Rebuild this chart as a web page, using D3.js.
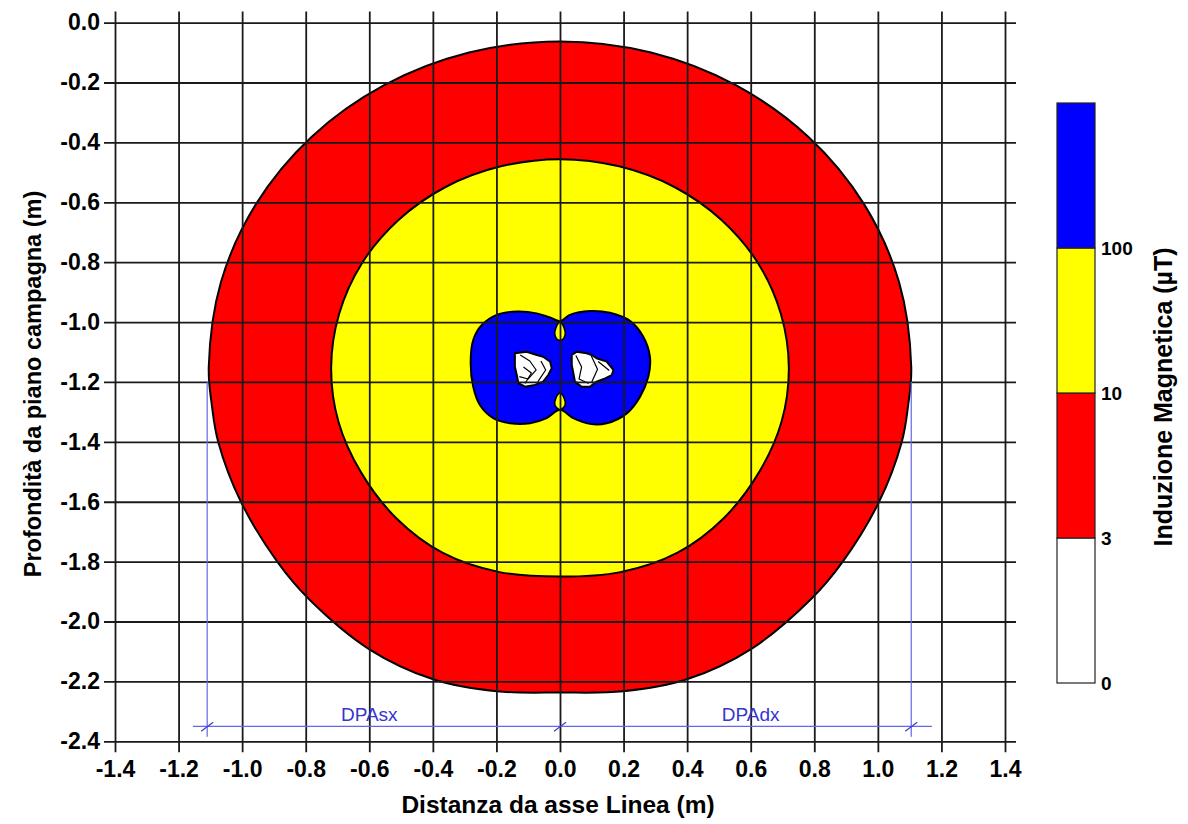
<!DOCTYPE html>
<html>
<head>
<meta charset="utf-8">
<script src="https://cdn.jsdelivr.net/npm/d3@7"></script>
<style>
  body { margin: 0; background: #fff; }
  text { font-family: Arial, "Liberation Sans", sans-serif; }
</style>
</head>
<body>
<script>
// tick values on both axes (m)
var xTicks = [-1.4, -1.2, -1.0, -0.8, -0.6, -0.4, -0.2, 0.0, 0.2, 0.4, 0.6, 0.8, 1.0, 1.2, 1.4];
var yTicks = [0.0, -0.2, -0.4, -0.6, -0.8, -1.0, -1.2, -1.4, -1.6, -1.8, -2.0, -2.2, -2.4];

// 3 uT contour (outer red edge), [x, y] in metres
var contour3 = [
  [0.00, -0.063], [0.286, -0.100], [0.553, -0.209], [0.781, -0.381], [0.957, -0.607],
  [1.067, -0.868], [1.105, -1.150], [1.095, -1.280], [1.075, -1.401], [1.003, -1.602],
  [0.889, -1.801], [0.790, -1.925], [0.601, -2.092], [0.399, -2.193], [0.199, -2.233],
  [0.00, -2.237], [-0.199, -2.233], [-0.399, -2.193], [-0.601, -2.092], [-0.790, -1.925],
  [-0.889, -1.801], [-1.003, -1.602], [-1.075, -1.401], [-1.095, -1.280], [-1.105, -1.150],
  [-1.067, -0.868], [-0.957, -0.607], [-0.781, -0.381], [-0.553, -0.209], [-0.286, -0.100]
];

// 10 uT contour (yellow edge)
var contour10 = [
  [0.00, -0.456], [0.186, -0.480], [0.360, -0.549], [0.509, -0.660], [0.624, -0.805],
  [0.695, -0.973], [0.720, -1.153], [0.697, -1.333], [0.626, -1.502], [0.515, -1.655],
  [0.370, -1.770], [0.190, -1.835], [0.00, -1.850], [-0.190, -1.835], [-0.370, -1.770],
  [-0.515, -1.655], [-0.626, -1.502], [-0.697, -1.333], [-0.720, -1.153], [-0.695, -0.973],
  [-0.624, -0.805], [-0.509, -0.660], [-0.360, -0.549], [-0.186, -0.480]
];

// 100 uT contour (blue, two lobes)
var contour100 = [
  [0.00, -0.997], [0.031, -0.976], [0.094, -0.963], [0.157, -0.969], [0.220, -0.996],
  [0.262, -1.049], [0.283, -1.116], [0.278, -1.182], [0.252, -1.249], [0.210, -1.305],
  [0.147, -1.338], [0.094, -1.340], [0.042, -1.321], [0.00, -1.293], [-0.042, -1.321],
  [-0.094, -1.338], [-0.157, -1.338], [-0.210, -1.321], [-0.252, -1.277], [-0.273, -1.216],
  [-0.281, -1.138], [-0.273, -1.060], [-0.246, -1.010], [-0.199, -0.976], [-0.136, -0.965],
  [-0.073, -0.971], [-0.031, -0.985]
];

// small yellow pockets between the lobes
var notchTop = [[0.00, -1.000], [0.013, -1.020], [0.016, -1.043], [0.006, -1.060], [-0.006, -1.060], [-0.016, -1.043], [-0.013, -1.020]];
var notchBottom = [[0.00, -1.237], [0.013, -1.254], [0.016, -1.277], [0.00, -1.293], [-0.016, -1.277], [-0.013, -1.254]];

// conductor areas (white)
var coreLeft = [
  [-0.142, -1.104], [-0.105, -1.099], [-0.073, -1.110], [-0.053, -1.116], [-0.031, -1.132],
  [-0.026, -1.154], [-0.037, -1.177], [-0.053, -1.199], [-0.079, -1.210], [-0.110, -1.216],
  [-0.131, -1.204], [-0.136, -1.177], [-0.142, -1.149]
];
var coreRight = [
  [0.037, -1.110], [0.053, -1.099], [0.084, -1.104], [0.100, -1.110], [0.115, -1.121],
  [0.147, -1.132], [0.168, -1.160], [0.163, -1.177], [0.142, -1.188], [0.115, -1.199],
  [0.094, -1.216], [0.068, -1.216], [0.047, -1.199], [0.042, -1.171], [0.037, -1.143]
];
var coreLines = [
  [[-0.125, -1.110], [-0.095, -1.130], [-0.075, -1.160], [-0.100, -1.190], [-0.128, -1.182]],
  [[-0.060, -1.130], [-0.045, -1.160], [-0.070, -1.200]],
  [[-0.115, -1.150], [-0.090, -1.170], [-0.110, -1.205]],
  [[0.050, -1.112], [0.068, -1.150], [0.060, -1.190], [0.090, -1.205]],
  [[0.098, -1.112], [0.118, -1.158], [0.100, -1.200]],
  [[0.120, -1.132], [0.155, -1.162]]
];

// DPA (distanza di prima approssimazione)
var dpaX = [-1.11, 1.105];
var dpaTickX = [-1.11, 0.0, 1.105];
var dpaLabels = ["DPAsx", "DPAdx"];
var dpaLabelX = [-0.60, 0.60];

// legend
var legendLevels = ["0", "3", "10", "100"];
var legendColors = ["#ffffff", "#ff0000", "#ffff00", "#0000ff"];

var width = 1188, height = 824;

var svg = d3.select("body").append("svg")
    .attr("width", width)
    .attr("height", height)
    .style("display", "block");

svg.append("rect").attr("width", width).attr("height", height).attr("fill", "#fff");

var x = d3.scaleLinear().domain([-1.4, 1.4]).range([115, 1005]);
var y = d3.scaleLinear().domain([0, -2.4]).range([22.6, 741.3]);

var ext = 11; // grid lines run a bit past the domain

var smooth = d3.line()
    .x(function(d) { return x(d[0]); })
    .y(function(d) { return y(d[1]); })
    .curve(d3.curveCatmullRomClosed);

var jagged = d3.line()
    .x(function(d) { return x(d[0]); })
    .y(function(d) { return y(d[1]); })
    .curve(d3.curveLinearClosed);

var open = d3.line()
    .x(function(d) { return x(d[0]); })
    .y(function(d) { return y(d[1]); });

// filled contour bands
var bands = svg.append("g").attr("stroke", "#000").attr("stroke-width", 2).attr("stroke-linejoin", "round");

bands.append("path").attr("d", smooth(contour3)).attr("fill", "#ff0000");
bands.append("path").attr("d", smooth(contour10)).attr("fill", "#ffff00");
bands.append("path").attr("d", smooth(contour100)).attr("fill", "#0000ff");
bands.append("path").attr("d", smooth(notchTop)).attr("fill", "#ffff00").attr("stroke-width", 1.5);
bands.append("path").attr("d", smooth(notchBottom)).attr("fill", "#ffff00").attr("stroke-width", 1.5);
bands.append("path").attr("d", jagged(coreLeft)).attr("fill", "#fff");
bands.append("path").attr("d", jagged(coreRight)).attr("fill", "#fff");

bands.selectAll(".coreline")
    .data(coreLines)
    .enter()
    .append("path")
    .attr("class", "coreline")
    .attr("d", open)
    .attr("fill", "none")
    .attr("stroke-width", 1.2);

// grid + axes
var fmt = function(d) { return Math.abs(d) < 1e-9 ? "0.0" : d.toFixed(1); };

var xAxis = svg.append("g")
    .attr("transform", "translate(0," + (y(-2.4) + ext) + ")")
    .call(d3.axisBottom(x)
        .tickValues(xTicks)
        .tickFormat(fmt)
        .tickSizeInner(-(y(-2.4) - y(0) + 2 * ext))
        .tickSizeOuter(0)
        .tickPadding(8));

var yAxis = svg.append("g")
    .attr("transform", "translate(" + (x(-1.4) - ext) + ",0)")
    .call(d3.axisLeft(y)
        .tickValues(yTicks)
        .tickFormat(fmt)
        .tickSizeInner(-(x(1.4) - x(-1.4) + 2 * ext))
        .tickSizeOuter(0)
        .tickPadding(4));

[xAxis, yAxis].forEach(function(a) {
    a.select(".domain").remove();
    a.selectAll(".tick line").attr("stroke", "#1a1a1a").attr("stroke-width", 1.8);
    a.selectAll(".tick text")
        .attr("fill", "#000")
        .style("font-size", "23px")
        .style("font-weight", "bold");
});

// DPA dimension lines
var dpa = svg.append("g").attr("stroke", "#6666e8").attr("stroke-width", 1.2);

dpa.selectAll(".dv")
    .data(dpaX)
    .enter()
    .append("line")
    .attr("x1", function(d) { return x(d); })
    .attr("x2", function(d) { return x(d); })
    .attr("y1", y(-1.2))
    .attr("y2", y(-2.385));

dpa.append("line")
    .attr("x1", x(-1.155))
    .attr("x2", x(1.17))
    .attr("y1", y(-2.35))
    .attr("y2", y(-2.35));

dpa.selectAll(".dt")
    .data(dpaTickX)
    .enter()
    .append("line")
    .attr("stroke", "#3c3cd0")
    .attr("x1", function(d) { return x(d) - 6; })
    .attr("x2", function(d) { return x(d) + 6; })
    .attr("y1", y(-2.35) + 5)
    .attr("y2", y(-2.35) - 4);

svg.selectAll(".dpalabel")
    .data(dpaLabels)
    .enter()
    .append("text")
    .attr("x", function(d, i) { return x(dpaLabelX[i]); })
    .attr("y", y(-2.35) - 5)
    .attr("text-anchor", "middle")
    .attr("fill", "#3535cf")
    .style("font-size", "19px")
    .text(function(d) { return d; });

// axis titles
svg.append("text")
    .attr("x", 558)
    .attr("y", 813)
    .attr("text-anchor", "middle")
    .style("font-size", "24.5px")
    .style("font-weight", "bold")
    .text("Distanza da asse Linea (m)");

svg.append("text")
    .attr("transform", "translate(41,384) rotate(-90)")
    .attr("text-anchor", "middle")
    .style("font-size", "23.5px")
    .style("font-weight", "bold")
    .text("Profondità da piano campagna (m)");

// colour legend
var ly = d3.scaleLinear().domain([0, legendLevels.length]).range([683, 103]);
var lx0 = 1057, lx1 = 1095;

var legend = svg.append("g");

legend.selectAll("rect")
    .data(legendColors)
    .enter()
    .append("rect")
    .attr("x", lx0)
    .attr("y", function(d, i) { return ly(i + 1); })
    .attr("width", lx1 - lx0)
    .attr("height", function(d, i) { return ly(i) - ly(i + 1); })
    .attr("fill", function(d) { return d; })
    .attr("stroke", "#222")
    .attr("stroke-width", 1.2);

legend.selectAll("text")
    .data(legendLevels)
    .enter()
    .append("text")
    .attr("x", lx1 + 6)
    .attr("y", function(d, i) { return ly(i); })
    .attr("dy", "0.36em")
    .style("font-size", "19px")
    .style("font-weight", "bold")
    .text(function(d) { return d; });

svg.append("text")
    .attr("transform", "translate(1172,397) rotate(-90)")
    .attr("text-anchor", "middle")
    .style("font-size", "25px")
    .style("font-weight", "bold")
    .text("Induzione Magnetica (µT)");
</script>
</body>
</html>
